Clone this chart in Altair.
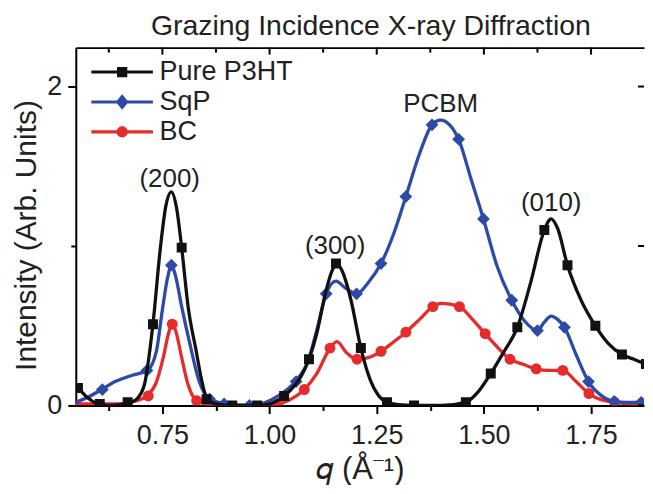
import altair as alt
import pandas as pd

FONT = "Liberation Sans, Arial, Helvetica, sans-serif"
TXT = "#222222"

series = ["Pure P3HT", "SqP", "BC"]
colors = ["#111111", "#2c4aa6", "#e62b2b"]
shapes = ["square", "diamond", "circle"]
marker_sizes = [100, 165, 120]
legend_paths = [
    "M-3,-0.15L3,-0.15L3,0.15L-3,0.15Z M-0.5,-0.5L0.5,-0.5L0.5,0.5L-0.5,0.5Z",
    "M-3,-0.15L3,-0.15L3,0.15L-3,0.15Z M0,-0.75L0.62,0L0,0.75L-0.62,0Z",
    "M-3,-0.15L3,-0.15L3,0.15L-3,0.15Z M0.55,0A0.55,0.55 0 1,1 -0.55,0A0.55,0.55 0 1,1 0.55,0Z",
]

# ---- Pure P3HT (black) ----
p3ht_line_q = [0.548, 0.553, 0.575, 0.600, 0.625, 0.660, 0.675, 0.690, 0.708, 0.728, 0.745, 0.758,
               0.771, 0.783, 0.795, 0.810, 0.829, 0.840, 0.853, 0.875, 0.913, 0.971, 1.000, 1.034,
               1.060, 1.075, 1.092, 1.110, 1.130, 1.145, 1.157, 1.170, 1.190, 1.213, 1.235, 1.255,
               1.274, 1.300, 1.337, 1.400, 1.458, 1.488, 1.516, 1.545, 1.578, 1.610, 1.641, 1.657,
               1.672, 1.695, 1.725, 1.760, 1.790, 1.822, 1.850, 1.878, 1.890]
p3ht_line_i = [0.12, 0.11, 0.05, 0.01, 0.00, 0.01, 0.02, 0.04, 0.13, 0.51, 0.98, 1.25,
               1.34, 1.24, 0.99, 0.62, 0.34, 0.18, 0.05, 0.01, 0.00, 0.00, 0.01, 0.06,
               0.13, 0.19, 0.29, 0.45, 0.70, 0.84, 0.89, 0.84, 0.66, 0.36, 0.16, 0.06,
               0.02, 0.005, 0.00, 0.00, 0.02, 0.09, 0.20, 0.33, 0.49, 0.78, 1.10, 1.17,
               1.11, 0.88, 0.67, 0.50, 0.39, 0.32, 0.29, 0.26, 0.255]
p3ht_mark_q = [0.553, 0.604, 0.669, 0.728, 0.795, 0.853, 0.913, 0.971, 1.034, 1.092, 1.155, 1.213,
               1.274, 1.337, 1.458, 1.516, 1.578, 1.641, 1.695, 1.760, 1.822, 1.878]
p3ht_mark_i = [0.11, 0.01, 0.02, 0.51, 0.99, 0.04, 0.00, 0.00, 0.06, 0.29, 0.89, 0.36,
               0.02, 0.00, 0.02, 0.20, 0.49, 1.10, 0.88, 0.50, 0.32, 0.26]

# ---- SqP (blue) ----
sqp_line_q = [0.548, 0.575, 0.608, 0.640, 0.680, 0.715, 0.736, 0.750, 0.762, 0.771, 0.780, 0.795,
              0.813, 0.836, 0.860, 0.900, 0.950, 0.980, 1.020, 1.060, 1.090, 1.110, 1.132, 1.155,
              1.175, 1.203, 1.230, 1.260, 1.290, 1.318, 1.350, 1.379, 1.399, 1.420, 1.441, 1.470,
              1.499, 1.530, 1.565, 1.595, 1.625, 1.640, 1.657, 1.672, 1.688, 1.715, 1.744, 1.775,
              1.804, 1.835, 1.867, 1.890]
sqp_line_i = [0.02, 0.05, 0.10, 0.15, 0.19, 0.22, 0.34, 0.60, 0.80, 0.88, 0.82, 0.62,
              0.40, 0.15, 0.04, 0.01, 0.00, 0.01, 0.06, 0.15, 0.28, 0.47, 0.70, 0.78,
              0.74, 0.70, 0.77, 0.89, 1.08, 1.31, 1.58, 1.76, 1.79, 1.76, 1.67, 1.42,
              1.17, 0.88, 0.66, 0.53, 0.47, 0.52, 0.56, 0.54, 0.49, 0.32, 0.15, 0.06,
              0.025, 0.02, 0.02, 0.02]
sqp_mark_q = [0.610, 0.714, 0.771, 0.860, 0.894, 0.953, 1.062, 1.132, 1.203, 1.260, 1.318, 1.379,
              1.441, 1.499, 1.565, 1.625, 1.688, 1.744, 1.804, 1.867]
sqp_mark_i = [0.10, 0.22, 0.88, 0.04, 0.01, 0.00, 0.15, 0.70, 0.70, 0.89, 1.31, 1.76,
              1.67, 1.17, 0.66, 0.47, 0.49, 0.15, 0.025, 0.02]

# ---- BC (red) ----
bc_line_q = [0.548, 0.600, 0.650, 0.690, 0.713, 0.735, 0.752, 0.765, 0.773, 0.782, 0.795, 0.810,
             0.830, 0.860, 0.950, 1.020, 1.050, 1.081, 1.110, 1.139, 1.157, 1.180, 1.204, 1.230,
             1.260, 1.290, 1.318, 1.350, 1.381, 1.401, 1.443, 1.470, 1.503, 1.530, 1.561, 1.590,
             1.622, 1.650, 1.684, 1.715, 1.745, 1.775, 1.808, 1.840, 1.890]
bc_line_i = [0.01, 0.01, 0.01, 0.03, 0.06, 0.14, 0.30, 0.46, 0.51, 0.46, 0.30, 0.13,
             0.03, 0.005, 0.00, 0.01, 0.04, 0.10, 0.20, 0.35, 0.40, 0.33, 0.29, 0.30,
             0.34, 0.40, 0.46, 0.54, 0.62, 0.64, 0.62, 0.55, 0.45, 0.37, 0.29, 0.26,
             0.23, 0.22, 0.22, 0.15, 0.075, 0.035, 0.02, 0.01, 0.005]
bc_mark_q = [0.717, 0.773, 0.830, 1.018, 1.081, 1.141, 1.204, 1.260, 1.318, 1.381, 1.443, 1.503,
             1.561, 1.622, 1.684, 1.745, 1.805]
bc_mark_i = [0.06, 0.51, 0.03, 0.01, 0.10, 0.36, 0.29, 0.34, 0.46, 0.62, 0.62, 0.45,
             0.29, 0.23, 0.22, 0.075, 0.02]

# ---- annotations ----
ann_text = ["(200)", "(300)", "PCBM", "(010)"]
ann_q = [0.767, 1.153, 1.399, 1.657]
ann_i = [1.42, 1.00, 1.89, 1.27]

# ---- axes ----
x_major = [0.75, 1.00, 1.25, 1.50, 1.75]
x_minor = [0.625, 0.875, 1.125, 1.375, 1.625]
y_major = [0, 2]
y_minor = [1]
x_domain = [0.548, 1.8735]
y_domain = [0, 2.244]

W, H = 570, 359

xs = alt.Scale(domain=x_domain, nice=False, zero=False)
ys = alt.Scale(domain=y_domain, nice=False, zero=False)

line_data = {
    "Pure P3HT": (p3ht_line_q, p3ht_line_i, p3ht_mark_q, p3ht_mark_i),
    "SqP": (sqp_line_q, sqp_line_i, sqp_mark_q, sqp_mark_i),
    "BC": (bc_line_q, bc_line_i, bc_mark_q, bc_mark_i),
}

axis_common = dict(domainColor="black", domainWidth=2, tickColor="black", tickWidth=2,
                   labelFont=FONT, labelColor=TXT, titleFont=FONT, titleColor=TXT,
                   titleFontWeight="normal", grid=False)

x_major_axis = alt.Axis(orient="bottom", values=x_major, format=".2f", tickSize=8,
                        labelFontSize=27, labelPadding=9, title="𝑞 (Å⁻¹)",
                        titleFontSize=31, titlePadding=6, **axis_common)
y_major_axis = alt.Axis(orient="left", values=y_major, format="d", tickSize=8,
                        labelFontSize=27, labelPadding=6, title="Intensity (Arb. Units)",
                        titleFontSize=30, titlePadding=5, titleY=188, **axis_common)
x_minor_axis = alt.Axis(orient="bottom", values=x_minor, tickSize=5, labels=False,
                        domain=False, title=None, **axis_common)
y_minor_axis = alt.Axis(orient="left", values=y_minor, tickSize=5, labels=False,
                        domain=False, title=None, **axis_common)
x_top_axis = alt.Axis(orient="top", ticks=False, labels=False, title=None, domain=True,
                      **axis_common)

layers = []
draw_order = [2, 1, 0]
for k, idx in enumerate(draw_order):
    name = series[idx]
    lq, li, mq, mi = line_data[name]
    ldf = pd.DataFrame({"q": lq, "I": li})
    mdf = pd.DataFrame({"q": mq, "I": mi})
    is_last = k == len(draw_order) - 1
    line = alt.Chart(ldf).mark_line(interpolate="monotone", strokeWidth=3.3,
                                    color=colors[idx], clip=True).encode(
        x=alt.X("q:Q", scale=xs, axis=x_major_axis if is_last else None),
        y=alt.Y("I:Q", scale=ys, axis=y_major_axis if is_last else None),
    )
    pts = alt.Chart(mdf).mark_point(shape=shapes[idx], filled=True, opacity=1, clip=True,
                                    size=marker_sizes[idx], color=colors[idx]).encode(
        x=alt.X("q:Q", scale=xs, axis=x_minor_axis if is_last else None),
        y=alt.Y("I:Q", scale=ys, axis=y_minor_axis if is_last else None),
    )
    layers += [line, pts]

# inward ticks on top and right
top_major = alt.Chart(pd.DataFrame({"q": x_major})).mark_rule(color="black", strokeWidth=2).encode(
    x=alt.X("q:Q", scale=xs, axis=x_top_axis), y=alt.value(0), y2=alt.value(7))
top_minor = alt.Chart(pd.DataFrame({"q": x_minor})).mark_rule(color="black", strokeWidth=2).encode(
    x=alt.X("q:Q", scale=xs, axis=None), y=alt.value(0), y2=alt.value(5))
right_ticks = alt.Chart(pd.DataFrame({"I": y_major + y_minor})).mark_rule(color="black", strokeWidth=2).encode(
    y=alt.Y("I:Q", scale=ys, axis=None), x=alt.value(W - 6), x2=alt.value(W))

ann = alt.Chart(pd.DataFrame({"q": ann_q, "I": ann_i, "t": ann_text})).mark_text(
    font=FONT, fontSize=26, color=TXT, baseline="middle", align="center").encode(
    x=alt.X("q:Q", scale=xs, axis=None), y=alt.Y("I:Q", scale=ys, axis=None), text="t:N")

leg_df = pd.DataFrame({"series": series})
legend_layer = alt.Chart(leg_df).mark_point(filled=True, opacity=1).encode(
    shape=alt.Shape("series:N", scale=alt.Scale(domain=series, range=legend_paths),
                    legend=alt.Legend(title=None)),
    fill=alt.Fill("series:N", scale=alt.Scale(domain=series, range=colors),
                  legend=alt.Legend(title=None)),
).transform_filter("false")

chart = alt.layer(*layers, top_major, top_minor, right_ticks, ann, legend_layer).resolve_axis(
    x="independent", y="independent"
).properties(
    width=W, height=H,
    title=alt.TitleParams("Grazing Incidence X-ray Diffraction", font=FONT, fontSize=28.5,
                          fontWeight="normal", color=TXT, anchor="middle", offset=6, dx=11),
    padding={"left": 3, "right": 0, "top": 3, "bottom": 0},
).configure_view(stroke=None).configure_legend(
    orient="none", legendX=33, legendY=11, padding=0, symbolSize=424, symbolStrokeWidth=0,
    labelFont=FONT, labelFontSize=27, labelColor=TXT, labelOffset=24, rowPadding=2,
    symbolOpacity=1,
)

chart.save("out.html", embed_options={"renderer": "svg", "actions": False})
